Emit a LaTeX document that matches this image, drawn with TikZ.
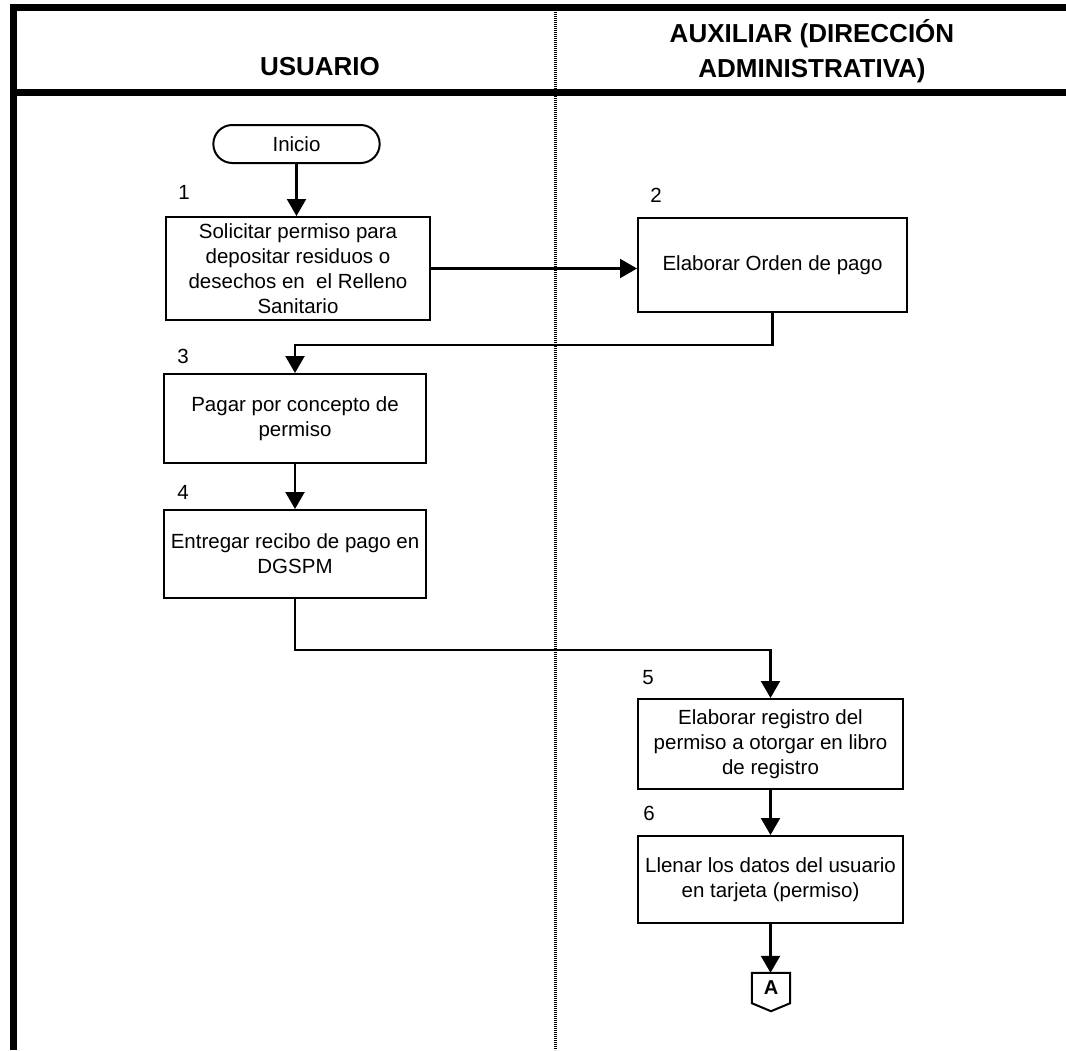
\documentclass[tikz,border=0pt]{standalone}
\usepackage{fontspec}
\setmainfont{Liberation Sans}
\usetikzlibrary{arrows.meta,shapes.misc}
\begin{document}
\begin{tikzpicture}[x=1pt,y=-1pt,
  proc/.style={draw,line width=2pt,rectangle,align=center,inner sep=2pt,
    font=\fontsize{20.5}{25}\selectfont},
  term/.style={draw,line width=2pt,rounded rectangle,
    font=\fontsize{20.5}{25}\selectfont,minimum width=173pt,minimum height=38pt},
  stepnum/.style={font=\fontsize{20.5}{25}\selectfont,inner sep=0pt},
  flow/.style={line width=2.2pt,-{Triangle[width=19pt,length=17pt]}},
  frameline/.style={line width=7pt},
  lane/.style={line width=3pt,dash pattern=on 1.2pt off 0.8pt},
  head/.style={font=\fontsize{26}{35}\bfseries\selectfont,align=center}]
\useasboundingbox (0,0) rectangle (1066,1050);

% swimlane frame
\draw[lane] (555,8) -- (555,1050);
\draw[frameline] (10,7) -- (1066,7);
\draw[frameline] (10,92) -- (1066,92);
\draw[frameline] (13,4) -- (13,1050);

% lane headings
\node[head] (hU) at (320,67) {USUARIO};
\node[head] (hA) at (812,51) {AUXILIAR (DIRECCIÓN\\ADMINISTRATIVA)};

% process steps
\node[term] (start) at (296.5,144) {Inicio};
\node[proc,minimum width=264pt,minimum height=103pt] (s1) at (298,268.5)
  {Solicitar permiso para\\depositar residuos o\\desechos en\ \ el Relleno\\Sanitario};
\node[proc,minimum width=269pt,minimum height=94pt] (s2) at (772.5,265)
  {Elaborar Orden de pago};
\node[proc,minimum width=262pt,minimum height=89pt] (s3) at (295,418.5)
  {Pagar por concepto de\\permiso};
\node[proc,minimum width=262pt,minimum height=88pt] (s4) at (295,554)
  {Entregar recibo de pago en\\DGSPM};
\node[proc,minimum width=265pt,minimum height=90pt] (s5) at (770.5,744)
  {Elaborar registro del\\permiso a otorgar en libro\\de registro};
\node[proc,minimum width=265pt,minimum height=87pt] (s6) at (770.5,879.5)
  {Llenar los datos del usuario\\en tarjeta (permiso)};

% off-page connector
\node[font=\fontsize{20}{23}\bfseries\selectfont,inner sep=0pt,
  minimum width=38pt,minimum height=30pt] (offA) at (771,988) {A};
\draw[line width=2pt,line join=miter]
  (offA.north west) -- (offA.north east) -- (offA.south east)
  -- ([yshift=-8pt]offA.south) -- (offA.south west) -- cycle;

% step numbers
\node[stepnum] (n1) at (184,192) {1};
\node[stepnum] (n2) at (656,195) {2};
\node[stepnum] (n3) at (183,356) {3};
\node[stepnum] (n4) at (183,492) {4};
\node[stepnum] (n5) at (648,678) {5};
\node[stepnum] (n6) at (649,813) {6};

% connectors
\draw[flow] (start.south) -- (start.south |- s1.north);
\draw[flow] (s1.east) -- (s1.east -| s2.west);
\draw[flow] (s2.south) -- ++(0,32) -| (s3.north);
\draw[flow] (s3) -- (s4);
\draw[flow] (s4.south) -- ++(0,51) -| (s5.north);
\draw[flow] (s5) -- (s6);
\draw[flow] (s6.south) -- (s6.south |- offA.north);
\end{tikzpicture}
\end{document}
